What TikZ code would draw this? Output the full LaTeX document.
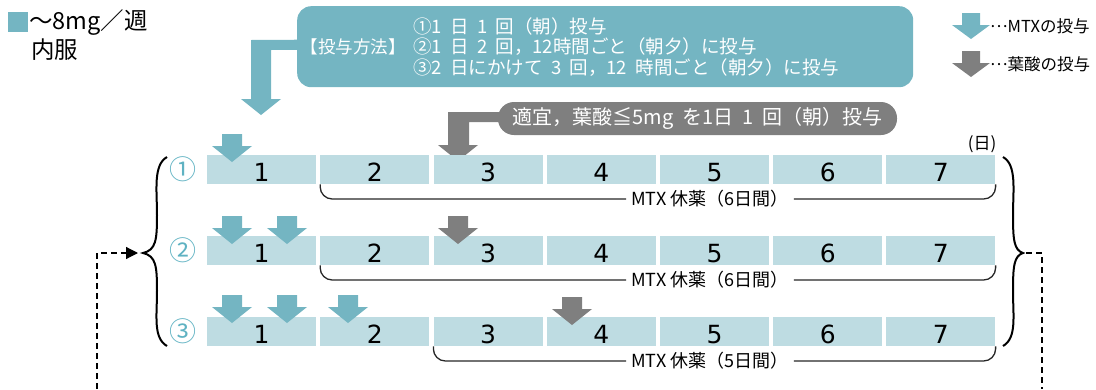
\documentclass[tikz,border=0pt]{standalone}
\usepackage{fontspec}
\setmainfont{Noto Sans CJK JP}
\newfontfamily\digf{DejaVu Sans}
\usetikzlibrary{arrows.meta,calc}
\definecolor{tealA}{HTML}{74B5C2}
\definecolor{boxc}{HTML}{BEDCE2}
\definecolor{grayA}{HTML}{7F7F7F}
\definecolor{circc}{HTML}{5FB2C2}
\newcommand{\wsp}{\hspace{0.45em}}
\newcommand{\middots}{\raisebox{0.3em}{…}}
\begin{document}
\begin{tikzpicture}[x=1pt,y=-1pt,
  daybox/.style={fill=boxc, minimum width=109pt, minimum height=29pt, inner sep=0pt, anchor=north west},
  daynum/.style={font=\digf\fontsize{25}{25}\selectfont, anchor=base, inner sep=0pt},
  circnum/.style={font=\fontsize{27}{27}\selectfont, text=circc, inner sep=0pt},
  brk/.style={line width=1.3pt, draw=black!85, rounded corners=12pt},
  brklbl/.style={font=\fontsize{18}{18}\selectfont, inner xsep=5pt, inner ysep=0pt},
  bracepath/.style={line width=2pt, draw=black},
  dsh/.style={line width=1.2pt, dash pattern=on 6pt off 4pt},
  wtxt/.style={text=white, font=\fontsize{18.5}{18.5}\selectfont, inner sep=0pt},
  legtxt/.style={font=\fontsize{16.5}{16.5}\selectfont, anchor=west, inner sep=0pt},
  titletxt/.style={font=\fontsize{23.5}{23.5}\selectfont, anchor=west, inner sep=0pt},
  pics/darrow/.style={code={\fill[#1] (-10,0) -- (10,0) -- (10,12) -- (20,12) -- (0,28) -- (-20,12) -- (-10,12) -- cycle;}},
  pics/larrow/.style={code={\fill[#1] (-9,0) -- (9,0) -- (9,12) -- (19,12) -- (0,26) -- (-19,12) -- (-9,12) -- cycle;}}
]
\useasboundingbox (0,0) rectangle (1096,389);

% title
\fill[tealA] (8,12) rectangle (28,32);
\node[titletxt] (t1) at (29,22) {～8mg／週};
\node[titletxt] (t2) at (31,50) {内服};

% legend
\pic at (971,13) {larrow=tealA};
\pic at (971,51) {larrow=grayA};
\node[legtxt] (lg1) at (990,26) {\middots MTXの投与};
\node[legtxt] (lg2) at (990,64) {\middots 葉酸の投与};

% method callout
\node[fill=tealA, rounded corners=14pt, minimum width=616pt, minimum height=81pt, anchor=north west, inner sep=0pt] (howto) at (297,6) {};
\fill[tealA] ($(howto.west)+(5,-7)$) -- (251,40) -- (251,99) -- (241,99) -- (261,115) -- (281,99) -- (271,99) -- (271,50) -- ($(howto.west)+(5,3)$) -- cycle;
\node[wtxt, font=\fontsize{17.5}{17.5}\selectfont] (hlab) at (353,47) {【投与方法】};
\node[wtxt, anchor=west] (h1) at (413,26) {①1\wsp 日\wsp 1\wsp 回（朝）投与};
\node[wtxt, anchor=west] (h2) at (413,47) {②1\wsp 日\wsp 2\wsp 回，12時間ごと（朝夕）に投与};
\node[wtxt, anchor=west] (h3) at (413,68) {③2\wsp 日にかけて\wsp 3\wsp 回，12\wsp 時間ごと（朝夕）に投与};

% folic acid callout
\node[fill=grayA, rounded corners=16pt, minimum width=399pt, minimum height=33pt, inner sep=0pt, text=white, font=\fontsize{20}{20}\selectfont] (folic) at (697.5,118.5) {適宜，葉酸≦5mg\wsp を1日\wsp 1\wsp 回（朝）投与};
\fill[grayA] ($(folic.west)+(7,-6.5)$) -- (448,112) -- (448,145) -- (438,145) -- (458,161) -- (478,145) -- (469,145) -- (469,122) -- ($(folic.west)+(7,3.5)$) -- cycle;

% unit
\node[font=\fontsize{17}{17}\selectfont, inner sep=0pt] (unit) at (982,144) {(日)};

% day boxes
\foreach \r/\t in {1/155,2/236,3/317} {
  \foreach \d in {1,...,7} {
    \node[daybox] (b\r-\d) at ({207+113.2*(\d-1)},\t) {};
    \node[daynum] (n\r-\d) at ($(b\r-\d.south)+(0,-3)$) {\d};
  }
}

% circled numbers
\node[circnum] (c1) at (183,169.5) {①};
\node[circnum] (c2) at (183,250.5) {②};
\node[circnum] (c3) at (183,331.5) {③};

% MTX arrows
\pic at (232,134) {darrow=tealA};
\pic at (232,216) {darrow=tealA};
\pic at (287,216) {darrow=tealA};
\pic at (232,295) {darrow=tealA};
\pic at (287,295) {darrow=tealA};
\pic at (348,295) {darrow=tealA};
% folic acid arrows
\pic at (458,216) {darrow=grayA};
\pic at (572,297) {darrow=grayA};

% rest brackets
\node[brklbl] (m1) at (710,199) {MTX 休薬（6日間）};
\node[brklbl] (m2) at (710,280) {MTX 休薬（6日間）};
\node[brklbl] (m3) at (710,361) {MTX 休薬（5日間）};
\draw[brk] (b1-2.south west) |- (m1.west);
\draw[brk] (m1.east) -| (b1-7.south east);
\draw[brk] (b2-2.south west) |- (m2.west);
\draw[brk] (m2.east) -| (b2-7.south east);
\draw[brk] (b3-3.south west) |- (m3.west);
\draw[brk] (m3.east) -| (b3-7.south east);

% braces
\coordinate (lbt) at (143,253);
\coordinate (rbt) at (1023,253);
\draw[bracepath] (167,157) .. controls (153,165) and (157,190) .. (157,215) .. controls (157,240) and (156,250) .. (lbt) .. controls (156,256) and (157,266) .. (157,291) .. controls (157,316) and (153,338) .. (167,346);
\draw[bracepath] (1003,157) .. controls (1017,165) and (1013,190) .. (1013,215) .. controls (1013,240) and (1014,250) .. (rbt) .. controls (1014,256) and (1013,266) .. (1013,291) .. controls (1013,316) and (1017,338) .. (1003,346);

% loop-back dashed connector
\coordinate (ld) at (97,389);
\coordinate (rd) at (1042,389);
\draw[dsh, -{Triangle[length=12pt,width=12pt]}, shorten >=5pt] (ld) |- (lbt);
\draw[dsh, shorten <=3pt] (rbt) -| (rd);
\end{tikzpicture}
\end{document}
